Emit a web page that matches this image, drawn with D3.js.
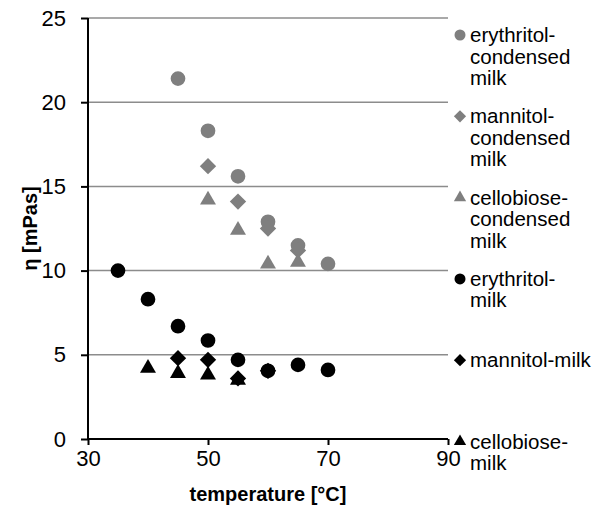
<!DOCTYPE html>
<html>
<head>
<meta charset="utf-8">
<script src="https://cdn.jsdelivr.net/npm/d3@7"></script>
<style>
  body { margin: 0; background: #fff; }
  svg { font-family: Arial, "Liberation Sans", sans-serif; }
</style>
</head>
<body>
<svg width="598" height="515"></svg>
<script>
const temps = [35, 40, 45, 50, 55, 60, 65, 70];

// viscosity values, null where there is no point
const erythritolCondensed = [null, null, 21.4, 18.3, 15.6, 12.9, 11.5, 10.4];
const mannitolCondensed   = [null, null, null, 16.2, 14.1, 12.5, 11.2, null];
const cellobioseCondensed = [null, null, null, 14.2, 12.4, 10.4, 10.5, null];
const erythritolMilk      = [10.0, 8.3, 6.7, 5.85, 4.7, 4.05, 4.4, 4.1];
const mannitolMilk        = [null, null, 4.8, 4.7, 3.6, 4.05, null, null];
const cellobioseMilk      = [null, 4.2, 3.9, 3.8, 3.5, null, null, null];

const seriesNames = [
  ['erythritol-', 'condensed', 'milk'],
  ['mannitol-', 'condensed', 'milk'],
  ['cellobiose-', 'condensed', 'milk'],
  ['erythritol-', 'milk'],
  ['mannitol-milk'],
  ['cellobiose-', 'milk']
];
const seriesValues = [erythritolCondensed, mannitolCondensed, cellobioseCondensed,
                      erythritolMilk, mannitolMilk, cellobioseMilk];
const seriesShapes = ['circle', 'diamond', 'triangle', 'circle', 'diamond', 'triangle'];
const seriesColors = ['#7f7f7f', '#7f7f7f', '#7f7f7f', '#000', '#000', '#000'];

const xTicks = [30, 50, 70, 90];
const yTicks = [0, 5, 10, 15, 20, 25];

const svg = d3.select('svg');
const margin = { left: 88, right: 150, top: 18, bottom: 76 };
const width = 598, height = 515;

const x = d3.scaleLinear().domain([30, 90]).range([margin.left, width - margin.right]);
const y = d3.scaleLinear().domain([0, 25]).range([height - margin.bottom, margin.top]);

const symbolFor = (shape, size) => {
  const type = shape === 'circle' ? d3.symbolCircle
    : shape === 'diamond' ? d3.symbolDiamond2 : d3.symbolTriangle;
  return d3.symbol().type(type).size(size)();
};

// gridlines
svg.append('g')
  .selectAll('line')
  .data(yTicks.filter(d => d > 0))
  .enter()
  .append('line')
  .attr('x1', x(30)).attr('x2', x(90))
  .attr('y1', d => y(d)).attr('y2', d => y(d))
  .style('stroke', '#8c8c8c')
  .style('stroke-width', 1.5);

// axes
const yAxis = svg.append('g')
  .attr('transform', `translate(${x(30)},0)`)
  .call(d3.axisLeft(y).tickValues(yTicks).tickSize(7).tickPadding(15));
const xAxis = svg.append('g')
  .attr('transform', `translate(0,${y(0)})`)
  .call(d3.axisBottom(x).tickValues(xTicks).tickSize(6).tickPadding(5));

[xAxis, yAxis].forEach(a => {
  a.select('.domain').attr('stroke', '#000').attr('stroke-width', 2);
  a.selectAll('.tick line').attr('stroke', '#000').attr('stroke-width', 2);
  a.selectAll('.tick text')
    .attr('fill', '#000')
    .style('font-size', '22px')
    .style('font-family', 'Arial, "Liberation Sans", sans-serif');
});
yAxis.select('.domain').attr('d', `M0,${y(0)}V${y(25)}`);
xAxis.select('.domain').attr('d', `M${x(30)},0H${x(90)}`);

// points
seriesValues.forEach((vals, i) => {
  svg.append('g')
    .selectAll('path')
    .data(temps.map((t, j) => ({ t, v: vals[j] })).filter(d => d.v !== null))
    .enter()
    .append('path')
    .attr('transform', d => `translate(${x(d.t)},${y(d.v)})`)
    .attr('d', symbolFor(seriesShapes[i], seriesShapes[i] === 'triangle' ? 110 : 170))
    .attr('fill', seriesColors[i]);
});

// axis titles
svg.append('text')
  .attr('x', (x(30) + x(90)) / 2)
  .attr('y', 501)
  .attr('text-anchor', 'middle')
  .style('font-size', '20px')
  .style('font-weight', 'bold')
  .text('temperature [°C]');

svg.append('text')
  .attr('transform', `translate(37,${(y(0) + y(25)) / 2}) rotate(-90)`)
  .attr('text-anchor', 'middle')
  .style('font-size', '20px')
  .style('font-weight', 'bold')
  .text('η [mPas]');

// legend
const legend = svg.append('g')
  .selectAll('g')
  .data(seriesNames)
  .enter()
  .append('g')
  .attr('transform', (d, i) => `translate(460,${35 + i * 81.3})`);

legend.append('path')
  .attr('d', (d, i) => symbolFor(seriesShapes[i], seriesShapes[i] === 'triangle' ? 65 : 95))
  .attr('fill', (d, i) => seriesColors[i]);

legend.append('text')
  .style('font-size', '20.5px')
  .selectAll('tspan')
  .data(d => d)
  .enter()
  .append('tspan')
  .attr('x', 10)
  .attr('y', (d, i) => 7 + i * 21.5)
  .text(d => d);
</script>
</body>
</html>
